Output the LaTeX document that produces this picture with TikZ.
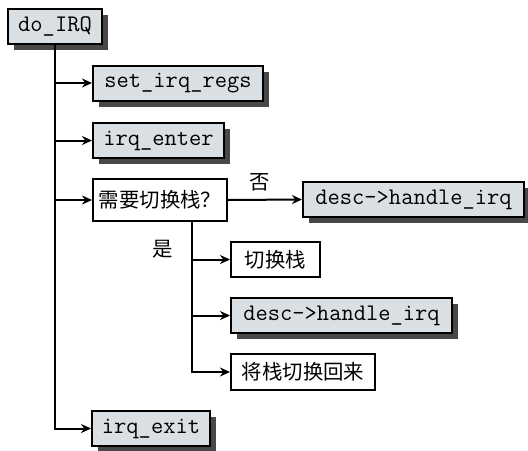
\documentclass[tikz,border=0pt]{standalone}
\usepackage{fontspec}
\newfontfamily\cjk{Noto Sans CJK SC}
\usetikzlibrary{positioning,arrows.meta,calc,shadows}
\definecolor{callfill}{RGB}{217,223,227}
\definecolor{callshadow}{RGB}{72,72,72}

\begin{document}
\begin{tikzpicture}[x=0.5pt, y=-0.5pt,
  call/.style={rectangle, draw=black, fill=callfill, line width=1pt,
               font=\fontsize{11.9}{13}\selectfont\ttfamily,
               minimum height=17.5pt, inner sep=0pt,
               drop shadow={shadow xshift=3pt, shadow yshift=-3pt,
                            fill=callshadow, opacity=1}},
  stepbox/.style={rectangle, draw=black, fill=white, line width=1pt,
                  font=\fontsize{10.2}{12}\selectfont\cjk,
                  minimum height=17.5pt, inner sep=0pt},
  lbl/.style={font=\fontsize{10.2}{12}\selectfont\cjk, inner sep=0pt},
  ar/.style={-{Stealth[length=5pt, width=4.5pt]}, line width=1pt},
]
\useasboundingbox (0,0) rectangle (528,450);

\node[call, minimum width=47pt]    (doirq)    at (55,26.5)    {do\_IRQ};
\node[call, minimum width=85pt]    (setregs)  at (178,83)     {set\_irq\_regs};
\node[call, minimum width=65.5pt]  (irqenter) at (158.5,140.5) {irq\_enter};
\node[stepbox, minimum width=67pt, minimum height=21pt]
                                   (ask)      at (160,200)    {需要切换栈？};
\node[call, minimum width=110.5pt] (deschi)   at (413.5,199.5) {desc->handle\_irq};

\node[stepbox, minimum width=44.5pt] (newstack) at (275.5,259.5) {切换栈};
\node[call, minimum width=110.5pt]   (deschi2)  at (341.5,315.5) {desc->handle\_irq};
\node[stepbox, minimum width=72pt, minimum height=18pt]
                                     (oldstack) at (303,372)     {将栈切换回来};

\node[call, minimum width=59pt]    (irqexit)  at (151,428.5)  {irq\_exit};

% main line
\draw[ar] (doirq.south) |- (irqexit.west);
\foreach \n in {setregs,irqenter,ask}
  \draw[ar] (doirq.south |- \n.west) -- (\n.west);

% no -> call directly
\draw[ar] (ask.east) -- (deschi.west);
\node[lbl] (no) at (260,182) {否};

% yes -> switch stack first
\coordinate (fork) at ($(ask.south)+(32,0)$);
\node[lbl] (yes) at (163,249) {是};
\draw[ar] (fork) |- (oldstack.west);
\foreach \n in {newstack,deschi2}
  \draw[ar] (fork |- \n.west) -- (\n.west);
\end{tikzpicture}
\end{document}
